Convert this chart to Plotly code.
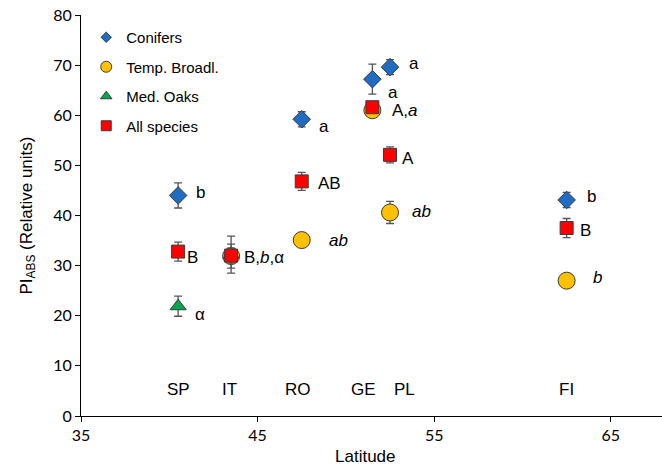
import plotly.graph_objects as go

# ---------------- data ----------------
countries = ["SP", "IT", "RO", "GE", "PL", "FI"]
latitude = [40.5, 43.5, 47.5, 51.5, 52.5, 62.5]
country_label_x = [40.5, 43.4, 47.3, 51.0, 53.3, 62.5]
country_label_y = 5.2

conif_lat = [40.5, 47.5, 51.5, 52.5, 62.5]
conif_val = [44.0, 59.2, 67.2, 69.6, 43.1]
conif_err = [2.5, 1.5, 3.0, 1.5, 1.5]
conif_lbl = ["b", "a", "a", "a", "b"]

broad_lat = [43.5, 47.5, 51.5, 52.5, 62.5]
broad_val = [31.9, 35.1, 61.0, 40.6, 27.0]
broad_err = [2.4, 0.5, 0.5, 2.2, 0.5]
broad_lbl = ["", "<i>ab</i>", "", "<i>ab</i>", "<i>b</i>"]

oak_lat = [40.5, 43.5]
oak_val = [21.9, 32.2]
oak_err = [2.0, 3.7]
oak_lbl = ["α", ""]

all_lat = [40.5, 43.5, 47.5, 51.5, 52.5, 62.5]
all_val = [32.8, 32.0, 46.8, 61.6, 52.1, 37.5]
all_err = [1.9, 1.5, 1.8, 1.0, 1.6, 1.9]
all_lbl = ["B", "B,<i>b</i>,α", "AB", "A,<i>a</i>", "A", "B"]

x_ticks = [35, 45, 55, 65]
y_ticks = [0, 10, 20, 30, 40, 50, 60, 70, 80]
x_title = "Latitude"
y_title = "PI<sub>ABS</sub> (Relative units)"

# ---------------- styles ----------------
TXT = "Liberation Sans, Arial, sans-serif"
AX = "Lato, Carlito, sans-serif"
OUT = dict(color="#3a3a3a", width=1)
ERR = dict(type="data", thickness=1.3, width=4, color="#555555")

fig = go.Figure()

def add_series(name, xs, ys, es, symbol, color, size, legsize):
    fig.add_trace(go.Scatter(
        x=xs, y=ys, mode="markers", name=name, showlegend=False,
        error_y=dict(array=es, **ERR),
        marker=dict(symbol=symbol, color=color, size=size, line=OUT),
    ))
    fig.add_trace(go.Scatter(
        x=[None], y=[None], mode="markers", name=name, legendgroup=name,
        marker=dict(symbol=symbol, color=color, size=legsize, line=OUT),
    ))

add_series("Conifers", conif_lat, conif_val, conif_err, "diamond", "#1F6CC0", 13.5, 8)
add_series("Temp. Broadl.", broad_lat, broad_val, broad_err, "circle", "#FFC000", 17, 11)
add_series("Med. Oaks", oak_lat, oak_val, oak_err, "triangle-up", "#00A94F", 14, 10)
add_series("All species", all_lat, all_val, all_err, "square", "#FF0000", 13, 10)

annotations = []
def add_labels(xs, ys, labels, shifts):
    for x, y, t, (dx, dy) in zip(xs, ys, labels, shifts):
        if not t:
            continue
        annotations.append(dict(x=x, y=y, text=t, showarrow=False, xanchor="left",
                                yanchor="middle", xshift=dx, yshift=dy,
                                font=dict(family=TXT, size=17, color="#000")))

add_labels(conif_lat, conif_val, conif_lbl, [(16, 3), (15, -7), (14, -13), (17, 4), (18, 3)])
add_labels(broad_lat, broad_val, broad_lbl, [(0, 0), (25, 0), (0, 0), (20, 1), (24, 3)])
add_labels(oak_lat, oak_val, oak_lbl, [(15, -8)])
add_labels(all_lat, all_val, all_lbl, [(7, -6), (11, -2), (14, -2), (18, -3), (10, -4), (11, -2)])

for x, c in zip(country_label_x, countries):
    annotations.append(dict(x=x, y=country_label_y, text=c, showarrow=False,
                            xanchor="center", yanchor="middle",
                            font=dict(family=TXT, size=17, color="#000")))

annotations.append(dict(x=0.49, y=0, xref="paper", yref="paper", text=x_title,
                        showarrow=False, xanchor="center", yanchor="middle", yshift=-40,
                        font=dict(family=TXT, size=17, color="#000")))

fig.update_layout(
    width=662, height=466,
    margin=dict(l=81, r=0, t=15, b=50),
    plot_bgcolor="white", paper_bgcolor="white",
    showlegend=True,
    legend=dict(x=0.009, y=0.985, xanchor="left", yanchor="top",
                font=dict(family=TXT, size=15, color="#000"),
                bgcolor="rgba(0,0,0,0)", traceorder="grouped", tracegroupgap=7),
    annotations=annotations,
    xaxis=dict(range=[35, 67.9], tickvals=x_ticks, showgrid=False, zeroline=False,
               showline=True, linecolor="#000", linewidth=1,
               ticks="outside", ticklen=5, tickcolor="#000",
               tickfont=dict(family=AX, size=16, color="#000")),
    yaxis=dict(range=[0, 80], tickvals=y_ticks, showgrid=False, zeroline=False,
               showline=True, linecolor="#000", linewidth=1,
               ticks="outside", ticklen=5, tickcolor="#000",
               tickfont=dict(family=AX, size=16, color="#000"),
               title=dict(text=y_title, font=dict(family=TXT, size=17, color="#000"), standoff=16)),
)

fig.write_html("out.html", config={"displayModeBar": False},
               post_script="document.body.style.margin='0';document.body.style.overflow='hidden';")
